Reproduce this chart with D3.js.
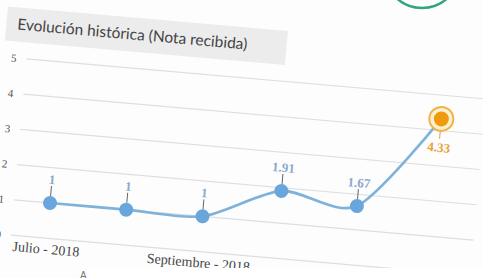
<!DOCTYPE html>
<html lang="es">
<head>
<meta charset="UTF-8">
<title>Evolución histórica</title>
<script src="https://d3js.org/d3.v7.min.js"></script>
<style>
  body { margin: 0; background: #fdfdfd; overflow: hidden; }
  svg { display: block; }
</style>
</head>
<body>
<svg width="483" height="278" id="canvas"></svg>
<script>
// data
const months = ["Julio - 2018", "Agosto - 2018", "Septiembre - 2018", "Octubre - 2018", "Noviembre - 2018", "Diciembre - 2018"];
const notas = [1, 1, 1, 1.91, 1.67, 4.33];
const yTicks = [0, 1, 2, 3, 4, 5];
const shownMonths = [0, 2];

const svg = d3.select("#canvas");

// the screenshot is tilted a few degrees, so the chart lives in a rotated group
const g = svg.append("g").attr("transform", "translate(50,203) rotate(5)");

const x = d3.scaleLinear().domain([0, notas.length - 1]).range([0, 382.5]);
const y = d3.scaleLinear().domain([0, 5]).range([35.4, -141.6]);
const ux = d3.scaleLinear().domain([0, 1]).range([-36, 425]);

// title box
g.append("rect")
  .attr("x", -59).attr("y", -192)
  .attr("width", 281).attr("height", 34)
  .attr("fill", "#ececec");
g.append("text")
  .attr("x", -48).attr("y", -170)
  .attr("font-family", "Lato, sans-serif")
  .attr("font-size", 15.5)
  .attr("fill", "#444")
  .text("Evolución histórica (Nota recibida)");

// grid
g.selectAll(".grid").data(yTicks).enter().append("line")
  .attr("class", "grid")
  .attr("x1", ux(0)).attr("x2", ux(1))
  .attr("y1", d => y(d)).attr("y2", d => y(d))
  .attr("stroke", "#dedede").attr("stroke-width", 1.2);

g.selectAll(".ytick").data(yTicks).enter().append("text")
  .attr("class", "ytick")
  .attr("x", -46).attr("y", d => y(d) + 4)
  .attr("text-anchor", "end")
  .attr("font-family", "Liberation Serif, serif")
  .attr("font-size", 11)
  .attr("fill", "#555")
  .text(d => d);

// x labels
g.selectAll(".xlab").data(shownMonths).enter().append("text")
  .attr("class", "xlab")
  .attr("x", d => x(d)).attr("y", 51)
  .attr("text-anchor", "middle")
  .attr("font-family", "Liberation Serif, serif")
  .attr("font-size", 14)
  .attr("fill", "#444")
  .text(d => months[d]);

// line
const line = d3.line()
  .x((d, i) => x(i))
  .y(d => y(d))
  .curve(d3.curveCardinal.tension(0.2));

g.append("path")
  .datum(notas)
  .attr("d", line)
  .attr("fill", "none")
  .attr("stroke", "#7fb2db")
  .attr("stroke-width", 2.6);

const last = notas.length - 1;
const pts = notas.map((v, i) => ({ v: v, i: i }));

// connector ticks + labels
g.selectAll(".conn").data(pts).enter().append("line")
  .attr("class", "conn")
  .attr("x1", d => x(d.i)).attr("x2", d => x(d.i))
  .attr("y1", d => d.i === last ? y(d.v) + 12 : y(d.v) - 17)
  .attr("y2", d => d.i === last ? y(d.v) + 20 : y(d.v) - 7)
  .attr("stroke", d => d.i === last ? "#e0a040" : "#666")
  .attr("stroke-width", 1);

g.selectAll(".dlab").data(pts).enter().append("text")
  .attr("class", "dlab")
  .attr("x", d => x(d.i))
  .attr("y", d => d.i === last ? y(d.v) + 33 : y(d.v) - 19)
  .attr("text-anchor", "middle")
  .attr("font-family", "Liberation Serif, serif")
  .attr("font-weight", "bold")
  .attr("font-size", 13)
  .attr("fill", d => d.i === last ? "#e8a23c" : "#8ea9cc")
  .text(d => d.v);

// points
g.selectAll(".pt").data(pts.filter(d => d.i !== last)).enter().append("circle")
  .attr("class", "pt")
  .attr("cx", d => x(d.i)).attr("cy", d => y(d.v))
  .attr("r", 7)
  .attr("fill", "#68a6dc");

g.append("circle")
  .attr("cx", x(last)).attr("cy", y(notas[last]))
  .attr("r", 12)
  .attr("fill", "#fdf0cf")
  .attr("stroke", "#efb24a").attr("stroke-width", 2);
g.append("circle")
  .attr("cx", x(last)).attr("cy", y(notas[last]))
  .attr("r", 7.5)
  .attr("fill", "#f19a10");

// green badge cut at the top right
svg.append("circle")
  .attr("cx", 422).attr("cy", -30).attr("r", 38)
  .attr("fill", "none")
  .attr("stroke", "#2fa57c").attr("stroke-width", 2.5);

// bar covering the bottom of the screenshot
svg.append("rect")
  .attr("x", 88).attr("y", 268)
  .attr("width", 395).attr("height", 10)
  .attr("fill", "#ffffff");
svg.append("text")
  .attr("x", 80).attr("y", 279)
  .attr("font-family", "Liberation Sans, sans-serif")
  .attr("font-size", 10)
  .attr("fill", "#777")
  .text("A");
</script>
</body>
</html>
